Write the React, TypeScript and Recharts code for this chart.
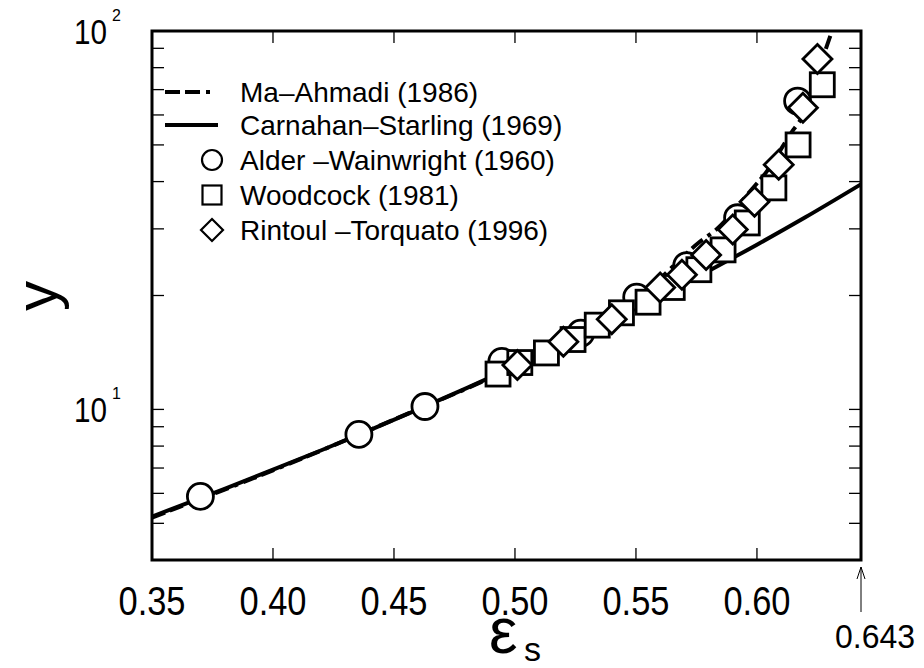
import {
  ComposedChart, Line, Scatter, XAxis, YAxis, ReferenceArea, Legend,
} from 'recharts';

// packing fraction (x) and y values
const csPhi = [0.35, 0.38, 0.40, 0.42, 0.44, 0.46, 0.48, 0.50, 0.52, 0.54, 0.56, 0.58, 0.60, 0.62, 0.643];
const csY = [5.21, 6.17, 6.93, 7.8, 8.82, 10.0, 11.38, 13.0, 14.92, 17.2, 19.93, 23.23, 27.25, 32.19, 39.35];

const maPhi = [0.35, 0.40, 0.45, 0.50, 0.52, 0.54, 0.556, 0.576, 0.584, 0.597, 0.604, 0.615, 0.618, 0.629, 0.631];
const maY = [5.18, 6.9, 9.4, 13.0, 15.1, 17.9, 21.1, 27.6, 30.2, 37.6, 42.5, 54.8, 58.2, 91.8, 100];

const awPhi = [0.370, 0.4355, 0.4628, 0.4946, 0.5272, 0.5503, 0.571, 0.592, 0.6168];
const awY = [5.89, 8.59, 10.18, 13.4, 15.9, 19.8, 24.0, 32.1, 65.3];

const wcPhi = [0.493, 0.502, 0.513, 0.524, 0.534, 0.544, 0.555, 0.565, 0.576, 0.586, 0.596, 0.607, 0.617, 0.627];
const wcY = [12.4, 13.3, 14.1, 15.3, 16.7, 18.0, 19.2, 21.0, 23.4, 26.4, 31.1, 38.5, 50.0, 72.1];

const rtPhi = [0.501, 0.520, 0.540, 0.560, 0.569, 0.579, 0.590, 0.599, 0.609, 0.619, 0.625];
const rtY = [13.1, 15.1, 17.3, 21.0, 22.7, 25.6, 29.9, 35.4, 44.3, 62.7, 84.3];

const xTicks = [0.35, 0.40, 0.45, 0.50, 0.55, 0.60, 0.643];
const yTicks = [5, 6, 7, 8, 9, 10, 20, 30, 40, 50, 60, 70, 80, 90, 100];

const toPts = (xs: number[], ys: number[]) => xs.map((x, i) => ({ x, y: ys[i] }));

const csData = toPts(csPhi, csY);
const maData = toPts(maPhi, maY);
const awData = toPts(awPhi, awY);
const wcData = toPts(wcPhi, wcY);
const rtData = toPts(rtPhi, rtY);

const PL = 152, PR = 861, PT = 31, PB = 560;
const SANS = "'Liberation Sans', Arial, sans-serif";
const DASH = '14 5 14 6 4 6';

const CircleMark = (p: any) => (
  <circle cx={p.cx} cy={p.cy} r={13} fill="#fff" stroke="#000" strokeWidth={2.8} />
);
const SquareMark = (p: any) => (
  <rect x={p.cx - 12} y={p.cy - 12} width={24} height={24} fill="#fff" stroke="#000" strokeWidth={2.8} />
);
const DiamondMark = (p: any) => {
  const h = 14.5;
  return (
    <polygon
      points={`${p.cx},${p.cy - h} ${p.cx + h},${p.cy} ${p.cx},${p.cy + h} ${p.cx - h},${p.cy}`}
      fill="#fff" stroke="#000" strokeWidth={2.8}
    />
  );
};

const XTick = ({ x, payload }: any) => {
  const v = payload.value;
  if (v === 0.643) {
    return (
      <g>
        <line x1={x} x2={x} y1={567} y2={612} stroke="#000" strokeWidth={1} />
        <polyline points={`${x - 4},${579} ${x},${567} ${x + 4},${579}`} fill="none" stroke="#000" strokeWidth={1} />
        <text x={x + 14} y={648} textAnchor="middle" fontSize={34} fontFamily={SANS} fill="#000"
          textLength={80} lengthAdjust="spacingAndGlyphs">0.643</text>
      </g>
    );
  }
  return (
    <g>
      {v !== 0.35 && (
        <>
          <line x1={x} x2={x} y1={PB} y2={PB - 12} stroke="#000" strokeWidth={1.3} />
          <line x1={x} x2={x} y1={PT} y2={PT + 12} stroke="#000" strokeWidth={1.3} />
        </>
      )}
      <text x={x} y={615} textAnchor="middle" fontSize={41} fontFamily={SANS} fill="#000"
        textLength={67} lengthAdjust="spacingAndGlyphs">
        {v.toFixed(2)}
      </text>
    </g>
  );
};

const YTick = ({ y, payload }: any) => {
  const v = payload.value;
  const major = v === 10 || v === 100;
  return (
    <g>
      <line x1={PL} x2={PL + 12} y1={y} y2={y} stroke="#000" strokeWidth={1.3} />
      <line x1={PR} x2={PR - 12} y1={y} y2={y} stroke="#000" strokeWidth={1.3} />
      {major && (
        <g>
          <text x={74} y={y + 12.5} fontSize={35} fontFamily={SANS} fill="#000"
            textLength={33} lengthAdjust="spacingAndGlyphs">10</text>
          <text x={112} y={y - 10} fontSize={16} fontFamily={SANS} fill="#000">{v === 10 ? '1' : '2'}</text>
        </g>
      )}
    </g>
  );
};

const legendRows = [
  { name: 'Ma\u2013Ahmadi (1986)', kind: 'dash' },
  { name: 'Carnahan\u2013Starling (1969)', kind: 'solid' },
  { name: 'Alder \u2013Wainwright (1960)', kind: 'circle' },
  { name: 'Woodcock (1981)', kind: 'square' },
  { name: 'Rintoul \u2013Torquato (1996)', kind: 'diamond' },
];
const legendY = [22, 55, 90, 125, 160];

const LegendBox = () => (
  <svg width={420} height={190} style={{ display: 'block' }}>
    {legendRows.map((r, i) => {
      const cy = legendY[i];
      let sym = null;
      if (r.kind === 'dash') sym = <line x1={10} x2={63} y1={cy} y2={cy} stroke="#000" strokeWidth={4} strokeDasharray="15 5 15 6 4 8" />;
      if (r.kind === 'solid') sym = <line x1={10} x2={63} y1={cy} y2={cy} stroke="#000" strokeWidth={4} />;
      if (r.kind === 'circle') sym = <circle cx={57} cy={cy} r={10} fill="#fff" stroke="#000" strokeWidth={2.2} />;
      if (r.kind === 'square') sym = <rect x={47.5} y={cy - 9.5} width={19} height={19} fill="#fff" stroke="#000" strokeWidth={2.2} />;
      if (r.kind === 'diamond') sym = <polygon points={`57,${cy - 11} 68,${cy} 57,${cy + 11} 46,${cy}`} fill="#fff" stroke="#000" strokeWidth={2.2} />;
      return (
        <g key={r.name}>
          {sym}
          <text x={85} y={cy + 10} fontSize={28} fontFamily={SANS} fill="#000">{r.name}</text>
        </g>
      );
    })}
  </svg>
);

const XLabel = () => (
  <g>
    <text x={489} y={653} fontSize={64} fontFamily={SANS} fill="#000">ε</text>
    <text x={524} y={661} fontSize={34} fontFamily={SANS} fill="#000">s</text>
  </g>
);

const YLabel = () => (
  <text x={0} y={0} transform="translate(57,296) rotate(-90)" textAnchor="middle" fontSize={60} fontFamily={SANS} fill="#000">y</text>
);

export default function App() {
  return (
    <div style={{ position: 'absolute', left: 0, top: 0, width: 924, height: 668, background: '#fff' }}>
      <ComposedChart width={924} height={668} margin={{ top: PT, right: 924 - PR, bottom: 0, left: 0 }}>
        <XAxis
          dataKey="x" type="number" domain={[0.35, 0.643]} ticks={xTicks} allowDataOverflow
          height={668 - PB} axisLine={false} tickLine={false} tick={<XTick />} interval={0}
          label={{ content: () => <XLabel /> }}
        />
        <YAxis
          dataKey="y" type="number" scale="log" domain={[4, 100]} ticks={yTicks} allowDataOverflow
          width={PL} axisLine={false} tickLine={false} tick={<YTick />} interval={0}
          label={{ content: () => <YLabel /> }}
        />
        <Line data={csData} dataKey="y" type="monotone" stroke="#000" strokeWidth={4} dot={false} isAnimationActive={false} />
        <Line data={maData} dataKey="y" type="monotone" stroke="#000" strokeWidth={4} strokeDasharray={DASH} dot={false} isAnimationActive={false} />
        <Scatter data={awData} dataKey="y" shape={<CircleMark />} isAnimationActive={false} />
        <Scatter data={wcData} dataKey="y" shape={<SquareMark />} isAnimationActive={false} />
        <Scatter data={rtData} dataKey="y" shape={<DiamondMark />} isAnimationActive={false} />
        <ReferenceArea x1={0.35} x2={0.643} y1={4} y2={100} fill="none" stroke="#000" strokeWidth={3} ifOverflow="visible" />
        <Legend
          layout="vertical" align="center" verticalAlign="middle" content={<LegendBox />}
          wrapperStyle={{ left: 155, top: 70, width: 420, height: 190 }}
        />
      </ComposedChart>
    </div>
  );
}
